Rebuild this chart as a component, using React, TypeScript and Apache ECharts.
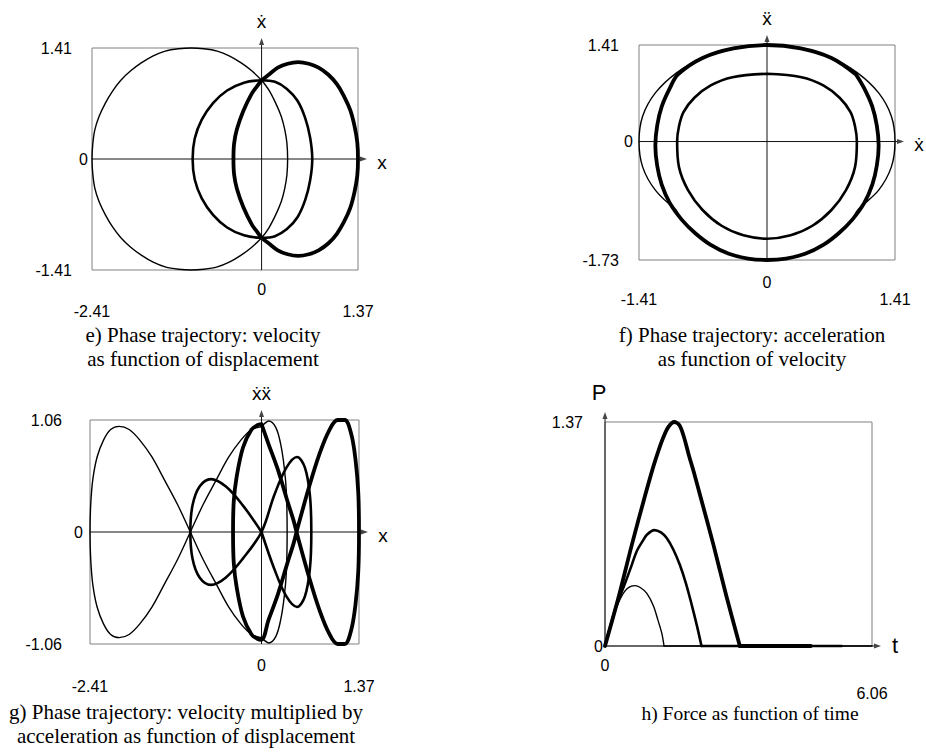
import React, { useEffect, useRef } from 'react';
import * as echarts from 'echarts';

// ---- tick labels (axis extents) ----
const E_XTICKS = [-2.41, 0, 1.37];
const E_YTICKS = [-1.41, 0, 1.41];
const F_XTICKS = [-1.41, 0, 1.41];
const F_YTICKS = [-1.73, 0, 1.41];
const G_XTICKS = [-2.41, 0, 1.37];
const G_YTICKS = [-1.06, 0, 1.06];
const H_XTICKS = [0, 6.06];
const H_YTICKS = [0, 1.37];

// ---- e) velocity vs displacement ----
const E_THIN = [
  [0, 1.0], [0.1, 0.88], [0.2, 0.71], [0.28, 0.54], [0.33, 0.37], [0.36, 0.2], [0.37, 0],
  [0.36, -0.2], [0.33, -0.37], [0.28, -0.54], [0.2, -0.71], [0.1, -0.88], [0, -1.0],
  [-0.14, -1.12], [-0.29, -1.22], [-0.46, -1.31], [-0.63, -1.37], [-0.82, -1.4], [-1.0, -1.41],
  [-1.18, -1.4], [-1.37, -1.37], [-1.54, -1.31], [-1.71, -1.22], [-1.86, -1.12], [-2.0, -1.0],
  [-2.12, -0.86], [-2.22, -0.71], [-2.31, -0.54], [-2.37, -0.37], [-2.4, -0.18], [-2.41, 0],
  [-2.4, 0.18], [-2.37, 0.37], [-2.31, 0.54], [-2.22, 0.71], [-2.12, 0.86], [-2.0, 1.0],
  [-1.86, 1.12], [-1.71, 1.22], [-1.54, 1.31], [-1.37, 1.37], [-1.18, 1.4], [-1.0, 1.41],
  [-0.82, 1.4], [-0.63, 1.37], [-0.46, 1.31], [-0.29, 1.22], [-0.14, 1.12], [0, 1.0],
];
const E_MED = [
  [0, 1.0], [0.19, 0.98], [0.36, 0.89], [0.51, 0.74], [0.62, 0.52], [0.69, 0.27], [0.72, 0],
  [0.69, -0.27], [0.62, -0.52], [0.51, -0.74], [0.36, -0.89], [0.19, -0.98], [0, -1.0],
  [-0.25, -0.97], [-0.49, -0.87], [-0.69, -0.71], [-0.85, -0.5], [-0.95, -0.26], [-0.98, 0],
  [-0.95, 0.26], [-0.85, 0.5], [-0.69, 0.71], [-0.49, 0.87], [-0.25, 0.97], [0, 1.0],
];
const E_THICK = [
  [0, 1.0], [0.1, 1.07], [0.23, 1.16], [0.37, 1.21], [0.52, 1.23], [0.67, 1.21], [0.81, 1.16],
  [0.95, 1.07], [1.07, 0.95], [1.17, 0.8], [1.26, 0.62], [1.32, 0.42], [1.36, 0.21], [1.37, 0],
  [1.36, -0.21], [1.32, -0.42], [1.26, -0.62], [1.17, -0.8], [1.07, -0.95], [0.95, -1.07],
  [0.81, -1.16], [0.67, -1.21], [0.52, -1.23], [0.37, -1.21], [0.23, -1.16], [0.1, -1.07], [0, -1.0],
  [-0.06, -0.93], [-0.14, -0.83], [-0.26, -0.61], [-0.35, -0.38], [-0.39, -0.2], [-0.4, 0],
  [-0.39, 0.2], [-0.35, 0.38], [-0.26, 0.61], [-0.14, 0.83], [-0.06, 0.93], [0, 1.0],
];

// ---- f) acceleration vs velocity ----
const F_THIN = [
  [-1.0, -1.0], [-1.23, -0.71], [-1.37, -0.37], [-1.41, 0], [-1.37, 0.37], [-1.23, 0.71], [-1.0, 1.0],
  [-0.71, 1.22], [-0.37, 1.37], [0, 1.41], [0.37, 1.37], [0.71, 1.22], [1.0, 1.0], [1.23, 0.71],
  [1.37, 0.37], [1.41, 0], [1.37, -0.37], [1.23, -0.71], [1.0, -1.0], [0.94, -1.14], [0.79, -1.34],
  [0.62, -1.51], [0.42, -1.64], [0.21, -1.71], [0, -1.73], [-0.21, -1.71], [-0.42, -1.64],
  [-0.62, -1.51], [-0.79, -1.34], [-0.94, -1.14], [-1.0, -1.0],
];
const F_MED = [
  [0, 0.99], [0.38, 0.94], [0.62, 0.82], [0.8, 0.64], [0.92, 0.43], [0.97, 0.22], [0.99, 0],
  [0.97, -0.37], [0.87, -0.71], [0.71, -1.0], [0.5, -1.23], [0.26, -1.37], [0, -1.42],
  [-0.26, -1.37], [-0.5, -1.23], [-0.71, -1.0], [-0.87, -0.71], [-0.97, -0.37], [-0.99, 0],
  [-0.97, 0.22], [-0.92, 0.43], [-0.8, 0.64], [-0.62, 0.82], [-0.38, 0.94], [0, 0.99],
];
const F_THICK = [
  [0.98, 0.98], [1.07, 0.78], [1.16, 0.51], [1.21, 0.23], [1.23, -0.06], [1.21, -0.35], [1.16, -0.63],
  [1.07, -0.9], [0.94, -1.14], [0.79, -1.34], [0.62, -1.51], [0.42, -1.64], [0.21, -1.71], [0, -1.73],
  [-0.21, -1.71], [-0.42, -1.64], [-0.62, -1.51], [-0.79, -1.34], [-0.94, -1.14], [-1.07, -0.9],
  [-1.16, -0.63], [-1.21, -0.35], [-1.23, -0.06], [-1.21, 0.23], [-1.16, 0.51], [-1.07, 0.78],
  [-0.98, 0.98], [-0.71, 1.22], [-0.37, 1.36], [0, 1.41], [0.37, 1.36], [0.71, 1.22], [0.98, 0.98],
];

// ---- g) velocity*acceleration vs displacement ----
const G_THIN = [
  [0, -1.0], [0.05, -1.03], [0.1, -1.05], [0.2, -0.99], [0.27, -0.83], [0.32, -0.61], [0.35, -0.37],
  [0.36, 0], [0.35, 0.37], [0.32, 0.61], [0.27, 0.83], [0.2, 0.99], [0.1, 1.05], [0.05, 1.03], [0, 1.0],
  [-0.14, 0.97], [-0.29, 0.87], [-0.46, 0.71], [-0.63, 0.5], [-0.82, 0.26], [-1.0, 0],
  [-1.18, -0.26], [-1.37, -0.5], [-1.54, -0.71], [-1.71, -0.87], [-1.86, -0.97], [-2.0, -1.0],
  [-2.12, -0.97], [-2.22, -0.87], [-2.31, -0.71], [-2.37, -0.5], [-2.4, -0.26], [-2.41, 0],
  [-2.4, 0.26], [-2.37, 0.5], [-2.31, 0.71], [-2.22, 0.87], [-2.12, 0.97], [-2.0, 1.0],
  [-1.86, 0.97], [-1.71, 0.87], [-1.54, 0.71], [-1.37, 0.5], [-1.18, 0.26], [-1.0, 0],
  [-0.82, -0.26], [-0.63, -0.5], [-0.46, -0.71], [-0.29, -0.87], [-0.14, -0.97], [0, -1.0],
];
const G_MED = [
  [0, 0], [0.18, -0.35], [0.35, -0.61], [0.5, -0.71], [0.61, -0.61], [0.68, -0.35], [0.7, 0],
  [0.68, 0.35], [0.61, 0.61], [0.5, 0.71], [0.35, 0.61], [0.18, 0.35], [0, 0],
  [-0.26, -0.25], [-0.5, -0.43], [-0.71, -0.5], [-0.87, -0.43], [-0.97, -0.25], [-1.0, 0],
  [-0.97, 0.25], [-0.87, 0.43], [-0.71, 0.5], [-0.5, 0.43], [-0.26, 0.25], [0, 0],
];
const G_THICK = [
  [0, 1.02], [0.1, 0.83], [0.23, 0.59], [0.37, 0.28], [0.45, 0.11], [0.52, -0.07], [0.67, -0.43],
  [0.81, -0.73], [0.95, -0.96], [1.07, -1.06], [1.17, -1.06], [1.26, -0.93], [1.32, -0.69],
  [1.36, -0.37], [1.37, 0], [1.36, 0.37], [1.32, 0.69], [1.26, 0.93], [1.17, 1.06], [1.07, 1.06],
  [0.95, 0.96], [0.81, 0.73], [0.67, 0.43], [0.52, 0.07], [0.45, -0.11], [0.37, -0.28], [0.23, -0.59],
  [0.1, -0.83], [0, -1.02], [-0.06, -1.01], [-0.14, -0.97], [-0.26, -0.8], [-0.35, -0.52],
  [-0.39, -0.29], [-0.4, 0], [-0.39, 0.29], [-0.35, 0.52], [-0.26, 0.8], [-0.14, 0.97], [-0.06, 1.01],
  [0, 1.02],
];

// ---- h) force vs time (pulse, then the flat tail; last point = end of tail) ----
const H_THIN = [
  [0, 0], [0.1, 0.1], [0.2, 0.19], [0.3, 0.26], [0.4, 0.315], [0.5, 0.35], [0.6, 0.366], [0.68, 0.369],
  [0.8, 0.358], [0.95, 0.322], [1.1, 0.245], [1.2, 0.16], [1.29, 0.077], [1.34, 0], [6.06, 0],
];
const H_MED = [
  [0, 0], [0.1, 0.1], [0.25, 0.24], [0.45, 0.38], [0.6, 0.49], [0.72, 0.58], [0.85, 0.64], [0.95, 0.68],
  [1.12, 0.709], [1.27, 0.695], [1.4, 0.66], [1.55, 0.59], [1.7, 0.495], [1.84, 0.38], [1.97, 0.25],
  [2.09, 0.12], [2.19, 0], [5.37, 0],
];
const H_THICK = [
  [0, 0], [0.3, 0.29], [0.61, 0.62], [0.91, 0.92], [1.1, 1.1], [1.22, 1.2], [1.33, 1.28], [1.44, 1.34],
  [1.57, 1.37], [1.69, 1.35], [1.79, 1.28], [1.9, 1.17], [2.02, 1.06], [2.16, 0.92], [2.46, 0.62],
  [2.75, 0.31], [3.06, 0], [4.67, 0],
];

const AXIS_NAMES = [
  ['x', '\u1E8B'],
  ['\u1E8B', '\u1E8D'],
  ['x', '\u1E8B\u1E8D'],
  ['t', 'P'],
];
const CAPTIONS = [
  ['e) Phase trajectory: velocity', 'as function of displacement'],
  ['f) Phase trajectory: acceleration', 'as function of velocity'],
  ['g) Phase trajectory: velocity multiplied by', 'acceleration as function of displacement'],
  ['h) Force as function of time'],
];

const PANELS = [
  { xt: E_XTICKS, yt: E_YTICKS, series: [E_THIN, E_MED, E_THICK], tail: false },
  { xt: F_XTICKS, yt: F_YTICKS, series: [F_THIN, F_MED, F_THICK], tail: false },
  { xt: G_XTICKS, yt: G_YTICKS, series: [G_THIN, G_MED, G_THICK], tail: false },
  { xt: H_XTICKS, yt: H_YTICKS, series: [H_THIN, H_MED, H_THICK], tail: true },
];

const GRIDS = [
  { left: 92, top: 48, width: 266, height: 222 },
  { left: 639, top: 45, width: 256, height: 215 },
  { left: 90, top: 420, width: 269, height: 224 },
  { left: 605, top: 422, width: 267, height: 224 },
];
// label layout per panel: [x margin, x far padding, y margin, y far padding]
const LABEL_LAYOUT = [
  [11, 22, 4, 16],
  [14, 17, 6, 14],
  [13, 21, 7, 21],
  [11, 28, 2, 20],
];
const CAPTION_POS = [
  { cx: 203, y: 335, size: 21 },
  { cx: 752, y: 335, size: 21 },
  { cx: 186, y: 712, size: 21 },
  { cx: 750, y: 713, size: 19.5 },
];
const WIDTHS = [1.4, 2.6, 3.8];
const SANS = 'Liberation Sans, Arial, DejaVu Sans, sans-serif';
const SERIF = 'Liberation Serif, Times New Roman, DejaVu Serif, serif';

const fmt = (v: number) => (v === 0 ? '0' : String(v));

export default function App() {
  const ref = useRef<HTMLDivElement>(null);
  useEffect(() => {
    if (!ref.current) return;
    const chart = echarts.init(ref.current, null, { renderer: 'svg' });
    const grids: any[] = [];
    const xAxes: any[] = [];
    const yAxes: any[] = [];
    const series: any[] = [];
    PANELS.forEach((p, i) => {
      const [xm, xpad, ym, ypad] = LABEL_LAYOUT[i];
      grids.push({ ...GRIDS[i], show: true, borderColor: '#808080', borderWidth: 1, backgroundColor: 'transparent', containLabel: false });
      const richBase = { fontSize: 16, fontFamily: SANS, color: '#000' };
      xAxes.push({
        gridIndex: i, type: 'value', min: p.xt[0], max: p.xt[p.xt.length - 1],
        axisLine: { show: false, onZero: false }, axisTick: { show: false }, splitLine: { show: false },
        axisLabel: {
          customValues: p.xt, margin: xm, fontSize: 16, fontFamily: SANS, color: '#000',
          formatter: (v: number) => (v === 0 ? '{n|0}' : '{f|' + fmt(v) + '}'),
          rich: { n: { ...richBase }, f: { ...richBase, padding: [xpad, 0, 0, 0] } },
        },
      });
      yAxes.push({
        gridIndex: i, type: 'value', min: p.yt[0], max: p.yt[p.yt.length - 1],
        axisLine: { show: false, onZero: false }, axisTick: { show: false }, splitLine: { show: false },
        axisLabel: {
          customValues: p.yt, margin: ym, fontSize: 16, fontFamily: SANS, color: '#000',
          formatter: (v: number) => (v === 0 ? '{n|0}' : '{f|' + fmt(v) + '}'),
          rich: { n: { ...richBase }, f: { ...richBase, padding: [0, ypad, 0, 0] } },
        },
      });
      p.series.forEach((d, k) => {
        const base = {
          type: 'line', xAxisIndex: i, yAxisIndex: i, showSymbol: false, symbol: 'none',
          clip: false, silent: true, z: 3 + k,
          lineStyle: { color: '#000', width: WIDTHS[k], cap: 'round', join: 'round' },
          emphasis: { disabled: true },
        };
        if (p.tail) {
          series.push({ ...base, data: d.slice(0, d.length - 1), smooth: 0.3 });
          series.push({ ...base, data: d.slice(d.length - 2), smooth: false });
        } else {
          series.push({ ...base, data: d, smooth: 0.35 });
        }
      });
    });
    chart.setOption({
      animation: false,
      backgroundColor: '#fff',
      grid: grids, xAxis: xAxes, yAxis: yAxes, series,
    });

    const g: any[] = [];
    PANELS.forEach((p, i) => {
      const xmin = p.xt[0], xmax = p.xt[p.xt.length - 1];
      const ymin = p.yt[0], ymax = p.yt[p.yt.length - 1];
      const o = chart.convertToPixel({ gridIndex: i }, [0, 0]) as number[];
      const bl = chart.convertToPixel({ gridIndex: i }, [xmin, ymin]) as number[];
      const tr = chart.convertToPixel({ gridIndex: i }, [xmax, ymax]) as number[];
      const xTip = tr[0] + 9;
      const yTip = tr[1] - 10;
      g.push({ type: 'line', z: 2, shape: { x1: bl[0], y1: o[1], x2: xTip - 3, y2: o[1] }, style: { stroke: '#111', lineWidth: 1 } });
      g.push({ type: 'line', z: 2, shape: { x1: o[0], y1: bl[1], x2: o[0], y2: yTip + 3 }, style: { stroke: '#111', lineWidth: 1 } });
      g.push({ type: 'polygon', z: 2, shape: { points: [[xTip, o[1]], [xTip - 7, o[1] - 2.5], [xTip - 7, o[1] + 2.5]] }, style: { fill: '#444' } });
      g.push({ type: 'polygon', z: 2, shape: { points: [[o[0], yTip], [o[0] - 2.5, yTip + 7], [o[0] + 2.5, yTip + 7]] }, style: { fill: '#444' } });
      const [xn, yn] = AXIS_NAMES[i];
      const big = i === 3 ? 22 : 19;
      g.push({ type: 'text', z: 2, x: xTip + (i === 3 ? 14 : 15), y: o[1] + (i === 3 ? -1 : 3), style: { text: xn, fontSize: big, fontFamily: SANS, fill: '#000', align: 'center', verticalAlign: 'middle' } });
      g.push({ type: 'text', z: 2, x: o[0] + (i === 3 ? -6 : 0), y: yTip - (i === 3 ? 20 : 17), style: { text: yn, fontSize: big, fontFamily: SANS, fill: '#000', align: 'center', verticalAlign: 'middle' } });
      CAPTIONS[i].forEach((line, li) => {
        const cp = CAPTION_POS[i];
        g.push({ type: 'text', z: 2, x: cp.cx, y: cp.y + li * 24, style: { text: line, fontSize: cp.size, fontFamily: SERIF, fill: '#000', align: 'center', verticalAlign: 'middle' } });
      });
    });
    chart.setOption({ graphic: g });
    return () => chart.dispose();
  }, []);
  return <div ref={ref} style={{ position: 'absolute', left: 0, top: 0, width: 926, height: 752, background: '#fff' }} />;
}
